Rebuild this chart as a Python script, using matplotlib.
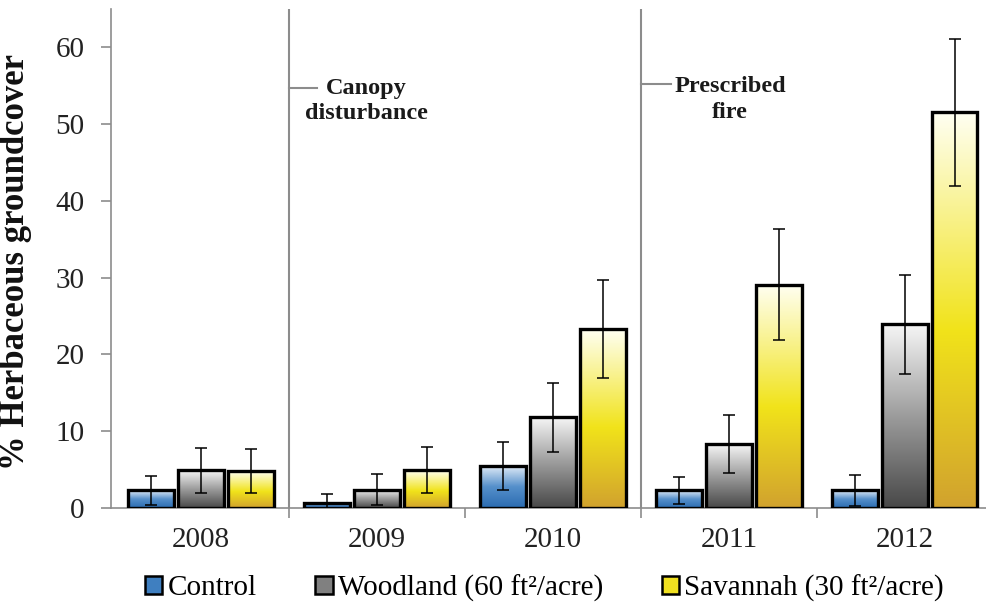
import numpy as np
import matplotlib
matplotlib.use('Agg')
import matplotlib.pyplot as plt
from matplotlib.colors import LinearSegmentedColormap
from matplotlib.patches import Patch

plt.rcParams['font.family'] = ['Liberation Serif', 'DejaVu Serif']

years = ['2008', '2009', '2010', '2011', '2012']
series = ['Control', 'Woodland (60 ft²/acre)', 'Savannah (30 ft²/acre)']
control = [2.3, 0.7, 5.5, 2.3, 2.3]
control_err = [1.9, 1.1, 3.1, 1.8, 2.0]
woodland = [4.9, 2.4, 11.8, 8.3, 23.9]
woodland_err = [2.9, 2.0, 4.5, 3.8, 6.4]
savannah = [4.8, 4.9, 23.3, 29.1, 51.5]
savannah_err = [2.9, 3.0, 6.4, 7.2, 9.6]

cmaps = [
    LinearSegmentedColormap.from_list('b', [(0, '#2a6bb0'), (0.5, '#5690cb'), (1, '#e6eff9')]),
    LinearSegmentedColormap.from_list('g', [(0, '#484848'), (0.5, '#9c9c9c'), (1, '#f6f6f6')]),
    LinearSegmentedColormap.from_list('y', [(0, '#d1a22e'), (0.45, '#f1e31a'), (1, '#fffff2')]),
]
legend_colors = ['#3f7fc0', '#808080', '#f0e020']

fig = plt.figure(figsize=(9.87, 6.03), dpi=100)
ax = fig.add_axes([111 / 987, 95 / 603, 876 / 987, (508 - 8.8) / 603])

x = np.arange(len(years))
width = 0.256
step = 0.284
grad = np.linspace(0, 1, 256).reshape(-1, 1)

for k, (vals, errs) in enumerate([(control, control_err), (woodland, woodland_err), (savannah, savannah_err)]):
    xs = x + (k - 1) * step
    bars = ax.bar(xs, vals, width=width, facecolor='none', edgecolor='black', linewidth=2.4, zorder=3)
    for b in bars:
        x0 = b.get_x()
        h = b.get_height()
        im = ax.imshow(grad, extent=[x0, x0 + width, 0, h], aspect='auto', cmap=cmaps[k],
                       origin='lower', zorder=2, interpolation='bilinear')
        im.set_clip_path(b)
    ax.errorbar(xs, vals, yerr=errs, fmt='none', ecolor='black', elinewidth=1.1,
                capsize=4.5, capthick=1.1, zorder=4)

ax.set_xlim(-0.5114, 4.466)
ax.set_ylim(0, 65)

for s in ['top', 'right']:
    ax.spines[s].set_visible(False)
for s in ['left', 'bottom']:
    ax.spines[s].set_color('#8c8c8c')
    ax.spines[s].set_linewidth(1.2)

ax.set_yticks(np.arange(0, 61, 10))
ax.tick_params(axis='y', length=7, width=1.2, color='#8c8c8c', labelsize=21, pad=12, labelcolor='#222222')

ax.set_xticks(x[:-1] + 0.5)
ax.set_xticklabels([])
ax.tick_params(axis='x', which='major', length=7, width=1.2, color='#8c8c8c', direction='out')
ax.set_xticks(x, labels=years, minor=True)
ax.tick_params(axis='x', which='minor', length=0, labelsize=21, pad=14, labelcolor='#222222')

ax.set_ylabel('% Herbaceous groundcover', fontsize=25, fontweight='bold', color='#111111')
ax.yaxis.set_label_coords(-0.090, 0.493)

for xb in [0.5, 2.5]:
    ax.axvline(xb, color='#8c8c8c', lw=1.5, zorder=1)

ax.plot([0.5, 0.5 + 28 / 176], [54.7, 54.7], color='#8c8c8c', lw=1.5)
ax.text(0.9375, 53.0, 'Canopy\ndisturbance', ha='center', va='center', fontsize=17.5,
        fontweight='bold', linespacing=1.3, color='#1a1a1a')
ax.plot([2.5, 2.5 + 30 / 176], [55.2, 55.2], color='#8c8c8c', lw=1.5)
ax.text(3.006, 53.2, 'Prescribed\nfire', ha='center', va='center', fontsize=17.5,
        fontweight='bold', linespacing=1.3, color='#1a1a1a')

handles = [Patch(facecolor=c, edgecolor='black', linewidth=1.8) for c in legend_colors]
fig.legend(handles, series, loc='center left', bbox_to_anchor=(145 / 987, (603 - 588) / 603),
           ncol=3, frameon=False, fontsize=21, handlelength=0.6, handleheight=0.6,
           handletextpad=0.18, columnspacing=2.0, borderaxespad=0, borderpad=0)

fig.savefig('out.png', dpi=100)
